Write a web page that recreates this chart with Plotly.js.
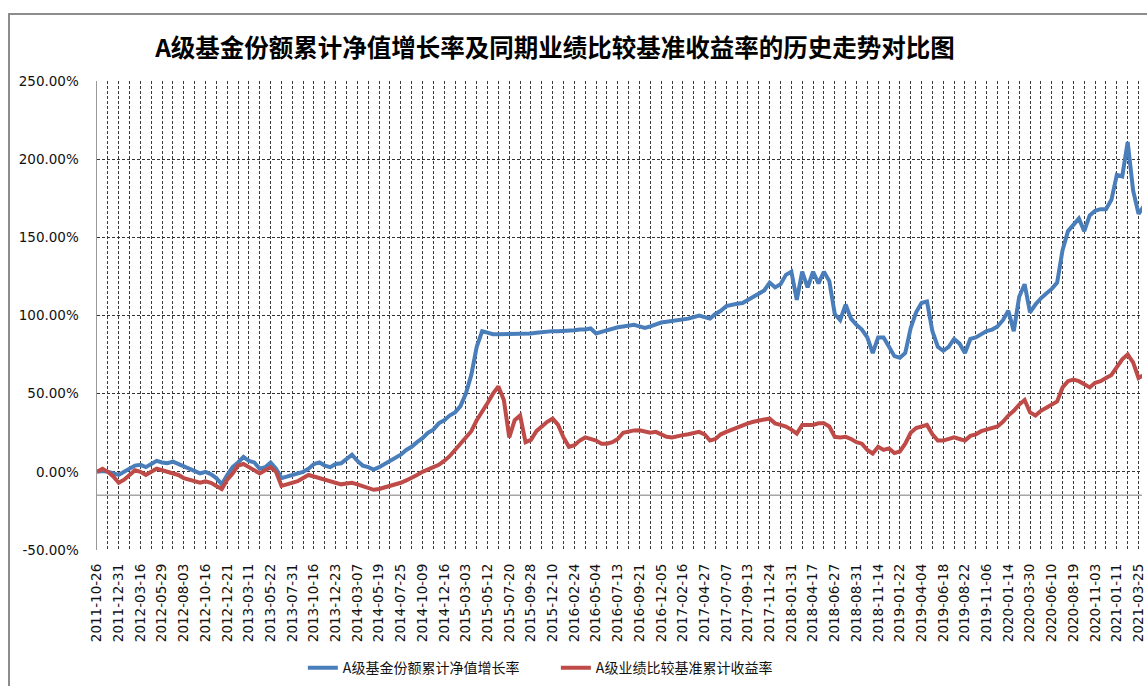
<!DOCTYPE html>
<html>
<head>
<meta charset="utf-8">
<script src="https://cdn.plot.ly/plotly-3.0.1.min.js"></script>
<style>html,body{margin:0;padding:0;background:#fff;}#chart{width:1147px;height:686px;}</style>
</head>
<body>
<div id="chart"></div>
<script>
// Category tick labels (every 48th trading day)
const dateLabels = ["2011-10-26","2011-12-31","2012-03-16","2012-05-29","2012-08-03","2012-10-16","2012-12-21","2013-03-11","2013-05-22","2013-07-31","2013-10-16","2013-12-23","2014-03-07","2014-05-19","2014-07-25","2014-10-09","2014-12-16","2015-03-03","2015-05-12","2015-07-20","2015-09-28","2015-12-10","2016-02-24","2016-05-04","2016-07-13","2016-09-21","2016-12-05","2017-02-16","2017-04-27","2017-07-07","2017-09-13","2017-11-24","2018-01-31","2018-04-17","2018-06-27","2018-08-31","2018-11-14","2019-01-22","2019-04-04","2019-06-18","2019-08-22","2019-11-06","2020-01-14","2020-03-30","2020-06-10","2020-08-19","2020-11-03","2021-01-11","2021-03-25"];

const fundNav = [0,0.5,0,-1,-2,0,2,4,4.5,3,5,7,6,5.5,6.5,5,3.5,2,0,-1,
0,-1.5,-4,-8,-2,3,6,9.5,7,6,2,3,6,2,-4,-3,-2,-1,0,2,
5,6,4,3,5,5.5,8,11,7,4,3,1.5,3,5,7,9.5,11,14,16,19,
21.5,25,27,31,33,36,38,42,50,62,80,90,89,88,88,88,88,88,88,88.5,
88.5,89,89.5,89.5,90,90,90,90.5,90.5,91,91,91.7,88.5,89.5,90.6,91.5,92.5,93,93.5,94,
93,92,93,94.5,95.5,96,96.5,97,97,98,99,100,99,98,101,103,106,107,107.5,108,
110,112,114,116,121,118,120,126,128,110,128,118,128,120.5,128,122,101,97,107,98,
94,91,86,76,86,86,80,74,73,76,92,102,108,109,90,80,77.4,80,85,82,
76,85,86,88,90,91,93,97,103,90,112,120,102,107,111,114,117,121,142,154,
158,162,154,164,167,168,168,174,190,189,211,180,165,170];

const benchmark = [0,2,0,-3,-7,-5,-2,1,0,-2,0,2,1,0,-1,-2,-4,-5,-6,-7,
-6,-7,-9,-11,-5,-1,4,5,3,1,-1,1,3,0,-9,-8,-7,-6,-4,-2,
-3,-4,-5,-6,-7,-8,-7.5,-7,-8,-9,-10,-11.5,-11,-10,-9.5,-8,-7,-5.5,-4,-2,
0,1.5,3,4.5,7,10,14,18,22,26,33,38,44,50,54.6,46,22,33,36,19,
20.5,26,29,32,34,30,22,16,17,20,22,21,20,18,18,19,21,25,26,26.5,
26.6,26,25,25.6,24,22.4,22,23,23.5,24,25,25.6,24,20,21,24,25.6,27,28,30,
31,32,33,33.5,34,31,30,29,27,24.5,30,30,30,31,31,29,22.4,22,22.4,21,
19,18,14,11.7,16,14,15,12,13,18,25,28,29,30,24,20,20,21,22,21,
20,23,24,26,27,28,29,32,36,39,43,46,38,36,39,41,43,45,54,58,
59,58,56,54,57,58,60,62,67,72,75,70,60,62];

const seriesNames = ["A级基金份额累计净值增长率","A级业绩比较基准累计收益率"];
const yTickVals = [-50,0,50,100,150,200,250];
const yTickText = ["-50.00%","0.00%","50.00%","100.00%","150.00%","200.00%","250.00%"];

const step = 0.25;
const xs = fundNav.map((_, i) => i * step);
const tickVals = dateLabels.map((_, k) => k);

const traces = [
  {x: xs, y: fundNav, name: seriesNames[0], type: 'scatter', mode: 'lines',
   line: {color: '#4A7EBB', width: 4}},
  {x: xs, y: benchmark, name: seriesNames[1], type: 'scatter', mode: 'lines',
   line: {color: '#BE4B48', width: 4}}
];

const gridDash = '3px,2px';
const layout = {
  width: 1147, height: 686,
  margin: {l: 97, r: 5, t: 81, b: 136, autoexpand: false},
  paper_bgcolor: '#fff', plot_bgcolor: '#fff',
  showlegend: true,
  title: {
    text: 'A级基金份额累计净值增长率及同期业绩比较基准收益率的历史走势对比图',
    font: {family: 'Noto Sans CJK SC', size: 24.5, color: '#000', weight: 'bold'},
    xref: 'container', x: 555/1147, xanchor: 'center',
    yref: 'container', y: 1 - 48/686, yanchor: 'middle'
  },
  xaxis: {
    range: [0, 48.16], tickmode: 'array', tickvals: tickVals, ticktext: dateLabels,
    tickangle: -90, ticks: '', ticklabelstandoff: 10,
    tickfont: {family: 'DejaVu Sans', size: 13.5, color: '#111'},
    showgrid: true, gridcolor: '#3a3a3a', griddash: gridDash, gridwidth: 1,
    minor: {tickmode: 'linear', tick0: 0, dtick: 0.5, showgrid: true, gridcolor: '#3a3a3a', griddash: gridDash, gridwidth: 1},
    zeroline: false, showline: false, fixedrange: true, automargin: false
  },
  yaxis: {
    range: [-50, 250], tickmode: 'array', tickvals: yTickVals, ticktext: yTickText,
    ticks: '', ticklabelstandoff: 14,
    tickfont: {family: 'DejaVu Sans', size: 13.5, color: '#111'},
    showgrid: true, gridcolor: '#333', griddash: gridDash, gridwidth: 1,
    zeroline: false, showline: true, linecolor: '#999', linewidth: 1.5, fixedrange: true, automargin: false
  },
  legend: {
    orientation: 'h', x: 0.197, xanchor: 'left', y: -0.252, yanchor: 'middle',
    font: {family: 'Noto Sans CJK SC', size: 14, color: '#111'},
    entrywidth: 208, entrywidthmode: 'pixels', bgcolor: 'rgba(0,0,0,0)'
  },
  shapes: [
    {type: 'line', xref: 'paper', yref: 'y', x0: 0, x1: 1, y0: -15, y1: -15,
     line: {color: '#a6a6a6', width: 1.5}},
    {type: 'rect', xref: 'paper', yref: 'paper', x0: -88/1045, x1: 1.2, y0: -0.6, y1: (550-14)/469,
     line: {color: '#8c8c8c', width: 2}, fillcolor: 'rgba(0,0,0,0)', layer: 'below'}
  ]
};

Plotly.newPlot('chart', traces, layout, {displayModeBar: false, staticPlot: true});
</script>
</body>
</html>
